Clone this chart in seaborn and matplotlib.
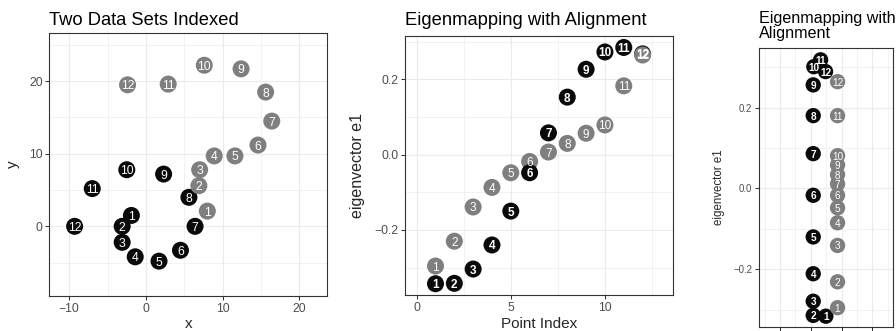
import matplotlib
matplotlib.use("Agg")
import matplotlib.pyplot as plt
from matplotlib.ticker import MultipleLocator
import pandas as pd
import seaborn as sns

# point indices shared by both data sets
point_index = [1, 2, 3, 4, 5, 6, 7, 8, 9, 10, 11, 12]

# data set A (black) and data set B (grey) in the original plane
set_a_x = [-1.9, -3.1, -3.1, -1.4, 1.7, 4.5, 6.4, 5.6, 2.3, -2.5, -7.0, -9.3]
set_a_y = [1.5, 0.0, -2.2, -4.2, -4.8, -3.3, 0.0, 4.0, 7.2, 7.8, 5.2, 0.0]
set_b_x = [8.0, 6.9, 7.0, 8.9, 11.6, 14.6, 16.4, 15.6, 12.4, 7.6, 2.9, -2.4]
set_b_y = [2.1, 5.6, 7.8, 9.7, 9.7, 11.2, 14.5, 18.5, 21.7, 22.2, 19.6, 19.5]

# first eigenvector after alignment, against point index
e1_a = [-0.343, -0.342, -0.304, -0.240, -0.150, -0.048, 0.058, 0.153, 0.227, 0.273, 0.285, 0.268]
e1_b = [-0.296, -0.230, -0.139, -0.087, -0.048, -0.018, 0.007, 0.030, 0.057, 0.079, 0.183, 0.265]

# joint embedding: horizontal coordinate and first eigenvector
joint_a_x = [1.49, 1.08, 1.08, 1.08, 1.08, 1.08, 1.08, 1.08, 1.08, 1.10, 1.32, 1.48]
joint_a_e1 = [-0.316, -0.314, -0.279, -0.211, -0.120, -0.017, 0.086, 0.180, 0.256, 0.301, 0.318, 0.289]
joint_b_x = [1.87, 1.87, 1.87, 1.87, 1.87, 1.87, 1.87, 1.87, 1.87, 1.87, 1.87, 1.87]
joint_b_e1 = [-0.295, -0.231, -0.141, -0.085, -0.048, -0.017, 0.011, 0.034, 0.058, 0.081, 0.180, 0.264]

SET_COLORS = {"A": "#0a0a0a", "B": "#7f7f7f"}

sns.set_theme(style="white")
plt.rcParams["font.family"] = ["Liberation Sans", "DejaVu Sans"]

W, H = 896, 331
fig = plt.figure(figsize=(W / 100, H / 100), dpi=100)
fig.patch.set_facecolor("white")


def px_axes(left, top, right, bottom):
    return fig.add_axes([left / W, (H - bottom) / H, (right - left) / W, (bottom - top) / H])


def two_sets(ax_, bx_, ay_, by_):
    a = pd.DataFrame({"x": ax_, "y": ay_, "idx": point_index, "set": "A"})
    b = pd.DataFrame({"x": bx_, "y": by_, "idx": point_index, "set": "B"})
    return a, b


def style_axes(ax, major_x, major_y, tick_size=8.8):
    ax.set_facecolor("white")
    ax.xaxis.set_major_locator(MultipleLocator(major_x))
    ax.xaxis.set_minor_locator(MultipleLocator(major_x / 2))
    ax.yaxis.set_major_locator(MultipleLocator(major_y))
    ax.yaxis.set_minor_locator(MultipleLocator(major_y / 2))
    ax.grid(True, which="major", color="#ebebeb", linewidth=0.85)
    ax.grid(True, which="minor", color="#ebebeb", linewidth=0.45)
    ax.set_axisbelow(True)
    for sp in ax.spines.values():
        sp.set_visible(True)
        sp.set_color("#333333")
        sp.set_linewidth(0.8)
    ax.tick_params(which="major", length=2.6, width=0.75, color="#333333",
                   labelcolor="#4d4d4d", labelsize=tick_size, pad=2.2,
                   bottom=True, left=True)
    ax.tick_params(which="minor", length=0, bottom=False, left=False)


def draw_points(ax, frame, size, label_size, bold_dark=False):
    sns.scatterplot(data=frame, x="x", y="y", hue="set", palette=SET_COLORS,
                    s=size, linewidth=0, legend=False, ax=ax, zorder=2)
    for _, r in frame.iterrows():
        weight = "bold" if (bold_dark and r["set"] == "A") else "normal"
        ax.text(r["x"], r["y"], str(r["idx"]), ha="center", va="center_baseline",
                color="white", fontsize=label_size, fontweight=weight, zorder=3)


# ---- panel 1: the two data sets in the plane
ax1 = px_axes(49.3, 33.3, 327, 296)
a, b = two_sets(set_a_x, set_b_x, set_a_y, set_b_y)
draw_points(ax1, pd.concat([a, b], ignore_index=True), 150, 8.8)
style_axes(ax1, 10, 10)
ax1.set_xlim(-12.6, 23.6)
ax1.set_ylim(-9.6, 26.6)
ax1.set_xticks([-10, 0, 10, 20])
ax1.set_xticklabels(["\u221210", "0", "10", "20"])
ax1.set_yticks([0, 10, 20])
ax1.set_title("Two Data Sets Indexed", loc="left", fontsize=13.2, pad=6.0, color="black")
ax1.set_xlabel("x", fontsize=11, va="baseline")
ax1.xaxis.set_label_coords(0.5, -(328 - 296) / (296 - 33.3))
ax1.set_ylabel("y", fontsize=11, va="center")
ax1.yaxis.set_label_coords(-(49.3 - 13) / (327 - 49.3), 0.5)

# ---- panel 2: aligned first eigenvector by point index
ax2 = px_axes(405, 35.8, 672.7, 295)
a, b = two_sets(point_index, point_index, e1_a, e1_b)
# lower points are drawn last so they sit on top where markers overlap
frame2 = pd.concat([a, b], ignore_index=True).sort_values("y", ascending=False)
draw_points(ax2, frame2, 150, 8.5, bold_dark=True)
style_axes(ax2, 5, 0.2)
ax2.set_xlim(-0.62, 13.6)
ax2.set_ylim(-0.373, 0.316)
ax2.set_xticks([0, 5, 10])
ax2.set_yticks([-0.2, 0.0, 0.2])
ax2.set_yticklabels(["\u22120.2", "0.0", "0.2"])
ax2.set_title("Eigenmapping with Alignment", loc="left", fontsize=13.2, pad=7.9, color="black")
ax2.set_xlabel("Point Index", fontsize=11, va="baseline")
ax2.xaxis.set_label_coords(0.5, -(328.5 - 295) / (295 - 35.8))
ax2.set_ylabel("eigenvector e1", fontsize=11.5, va="center")
ax2.yaxis.set_label_coords(-(405 - 357) / (672.7 - 405), 0.5)

# ---- panel 3: joint embedding of both sets
ax3 = px_axes(758.7, 47.7, 893, 326.7)
a, b = two_sets(joint_a_x, joint_b_x, joint_a_e1, joint_b_e1)
draw_points(ax3, pd.concat([a, b], ignore_index=True), 122, 7.2, bold_dark=True)
style_axes(ax3, 1, 0.2, tick_size=6.9)
ax3.set_xlim(-0.69, 3.67)
ax3.set_ylim(-0.342, 0.348)
ax3.set_xticks([0, 1, 2, 3])
ax3.tick_params(axis="x", labelbottom=False)
ax3.set_yticks([-0.2, 0.0, 0.2])
ax3.set_yticklabels(["\u22120.2", "0.0", "0.2"])
ax3.set_title("Eigenmapping with\nAlignment", loc="left", fontsize=11.6, pad=4.9,
              color="black", va="bottom", linespacing=0.95)
ax3.set_xlabel("")
ax3.set_ylabel("eigenvector e1", fontsize=8.3, va="center")
ax3.yaxis.set_label_coords(-(758.7 - 719) / (893 - 758.7), 0.5)

fig.savefig("out.png", dpi=100, facecolor="white")
